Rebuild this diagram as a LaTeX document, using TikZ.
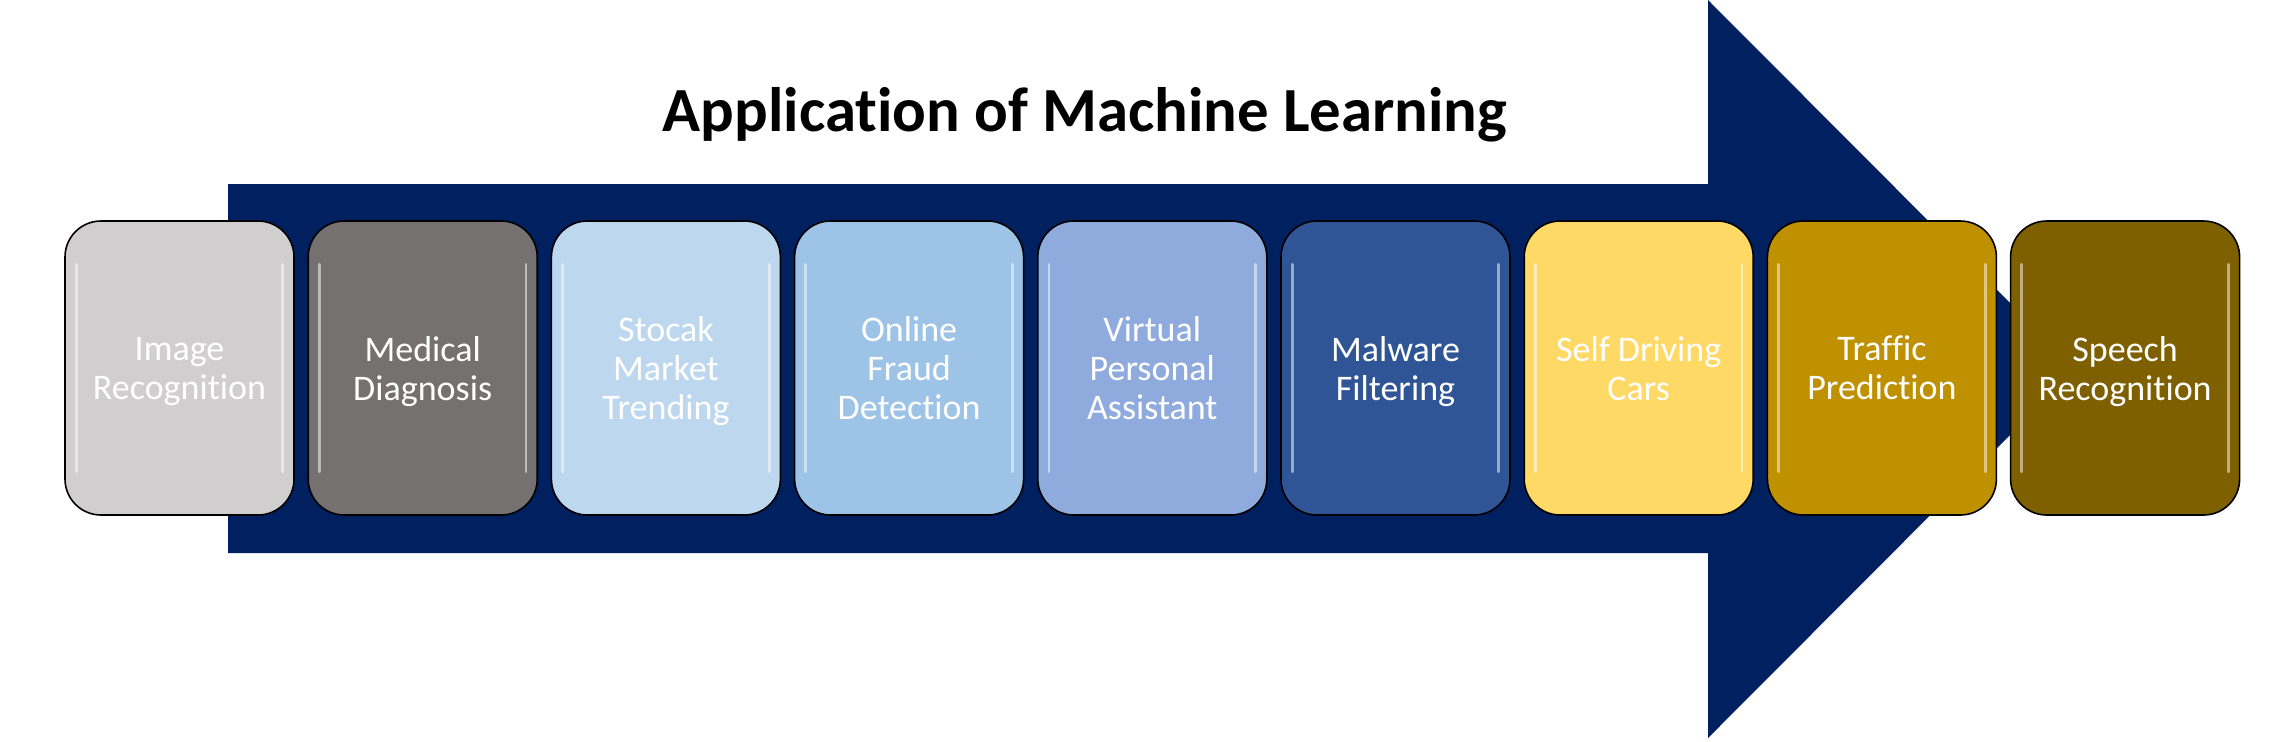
\documentclass[tikz,border=0pt]{standalone}
\usepackage{fontspec}
\setmainfont{Carlito}[Ligatures=NoCommon]
\usetikzlibrary{positioning}
\definecolor{arrowblue}{HTML}{002060}
\definecolor{boxA}{HTML}{D0CECE}
\definecolor{boxB}{HTML}{767171}
\definecolor{boxC}{HTML}{BDD7EE}
\definecolor{boxD}{HTML}{9DC3E6}
\definecolor{boxE}{HTML}{8FAADC}
\definecolor{boxF}{HTML}{2F5597}
\definecolor{boxG}{HTML}{FFD966}
\definecolor{boxH}{HTML}{BF9000}
\definecolor{boxI}{HTML}{7F6000}
\tikzset{
  appbox/.style={draw=black,line width=.8pt,rounded corners=18pt,minimum width=114.5pt,minimum height=147pt,
    align=center,text=white,inner sep=2pt,text depth=0pt,font=\fontsize{18}{19.5}\selectfont},
  gloss/.style={draw=white,opacity=.5,line width=1.4pt,line cap=round}
}
\begin{document}
\begin{tikzpicture}[x=.5pt,y=-.5pt]
\path[use as bounding box] (0,0) rectangle (2277,741);
% big arrow behind the boxes
\fill[arrowblue] (228,184) -- (1708,184) -- (1708,0) -- (2076,369) -- (1708,738) -- (1708,553) -- (228,553) -- cycle;
\node[anchor=base,inner sep=0pt,font=\fontsize{31.4}{36}\selectfont\bfseries] (title) at (1085,131) {Application of Machine Learning};
\node[appbox,fill=boxA] (img) at (179.5,368) {Image\\Recognition};
\node[appbox,fill=boxB] (med) at (422.7,368) {Medical\\Diagnosis};
\node[appbox,fill=boxC] (stock) at (665.9,368) {Stocak\\Market\\Trending};
\node[appbox,fill=boxD] (fraud) at (909.1,368) {Online\\Fraud\\Detection};
\node[appbox,fill=boxE] (assist) at (1152.3,368) {Virtual\\Personal\\Assistant};
\node[appbox,fill=boxF] (malware) at (1395.5,368) {Malware\\Filtering};
\node[appbox,fill=boxG] (cars) at (1638.7,368) {Self Driving\\Cars};
\node[appbox,fill=boxH] (traffic) at (1881.9,368) {Traffic\\Prediction};
\node[appbox,fill=boxI] (speech) at (2125.1,368) {Speech\\Recognition};
% glossy edge highlights
\foreach \b in {img,med,stock,fraud,assist,malware,cars,traffic,speech}{
  \draw[gloss] ([xshift=6pt,yshift=-22pt]\b.north west) -- ([xshift=6pt,yshift=22pt]\b.south west);
  \draw[gloss] ([xshift=-6pt,yshift=-22pt]\b.north east) -- ([xshift=-6pt,yshift=22pt]\b.south east);
}
\end{tikzpicture}
\end{document}
